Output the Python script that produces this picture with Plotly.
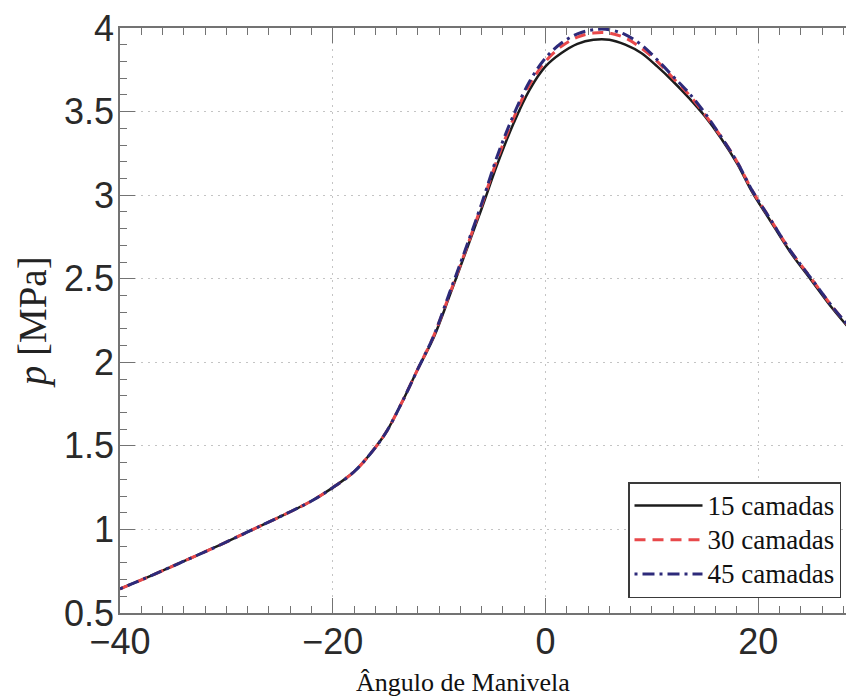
import plotly.graph_objects as go

angle = [-40, -37, -34, -31, -28, -25, -22, -20, -18, -16.5, -15, -13.5, -12, -10.5, -9, -7.5,
         -6, -4.5, -3, -1.5, 0, 1.5, 3, 4.5, 6, 7.5, 9, 10.5, 12, 13.5, 15, 16.5, 18, 19.5,
         21, 23, 25, 27, 29]

p_15 = [0.645, 0.725, 0.81, 0.895, 0.985, 1.075, 1.17, 1.25, 1.345, 1.45, 1.58, 1.76, 1.96, 2.15, 2.40, 2.66,
        2.92, 3.19, 3.43, 3.63, 3.77, 3.85, 3.905, 3.93, 3.93, 3.90, 3.85, 3.77, 3.68, 3.58, 3.47, 3.34, 3.19, 3.01,
        2.86, 2.66, 2.49, 2.32, 2.17]

p_30 = [0.645, 0.725, 0.81, 0.895, 0.985, 1.075, 1.17, 1.25, 1.345, 1.45, 1.58, 1.76, 1.96, 2.16, 2.41, 2.67,
        2.94, 3.22, 3.46, 3.66, 3.80, 3.89, 3.945, 3.97, 3.97, 3.94, 3.88, 3.80, 3.70, 3.60, 3.48, 3.35, 3.20, 3.02,
        2.87, 2.67, 2.50, 2.33, 2.18]

p_45 = [0.645, 0.725, 0.81, 0.895, 0.985, 1.075, 1.17, 1.25, 1.345, 1.45, 1.58, 1.76, 1.96, 2.16, 2.42, 2.68,
        2.95, 3.24, 3.48, 3.68, 3.82, 3.91, 3.965, 3.99, 3.99, 3.96, 3.90, 3.81, 3.71, 3.61, 3.49, 3.35, 3.20, 3.02,
        2.87, 2.67, 2.50, 2.33, 2.18]

series_names = ["15 camadas", "30 camadas", "45 camadas"]
x_ticks = [-40, -20, 0, 20]
y_ticks = [0.5, 1, 1.5, 2, 2.5, 3, 3.5, 4]


def legend_label(name):
    return '<span style="font-size:27px">' + name + '</span>'


fig = go.Figure()
fig.add_trace(go.Scatter(x=angle, y=p_15, mode="lines", name=legend_label(series_names[0]),
                         line=dict(color="#1c1c1c", width=2.5, shape="spline")))
fig.add_trace(go.Scatter(x=angle, y=p_30, mode="lines", name=legend_label(series_names[1]),
                         line=dict(color="#e8484a", width=3, dash="11px,7px", shape="spline")))
fig.add_trace(go.Scatter(x=angle, y=p_45, mode="lines", name=legend_label(series_names[2]),
                         line=dict(color="#2d2a7a", width=3, dash="3px,5px,12px,5px", shape="spline")))

axis_common = dict(
    showline=True, linecolor="#737373", linewidth=1.5,
    ticks="inside", ticklen=15, tickwidth=1.3, tickcolor="#737373",
    showgrid=True, gridcolor="#c4c4c4", griddash="2px,5px", gridwidth=1,
    zeroline=False, ticklabeloverflow="allow",
    tickfont=dict(family="Liberation Sans", size=36, color="#2a2a2a"),
)

fig.update_xaxes(range=[-40, 29.0], tickvals=x_ticks, mirror="ticks",
                 minor=dict(ticks="inside", ticklen=7, dtick=2, tickcolor="#737373", tickwidth=1.2, showgrid=False),
                 ticklabelstandoff=-4,
                 **axis_common)
fig.update_yaxes(range=[0.5, 4], tickvals=y_ticks, mirror=False,
                 minor=dict(ticks="inside", ticklen=7, dtick=0.1, tickcolor="#737373", tickwidth=1.2, showgrid=False),
                 ticklabelstandoff=-3,
                 **axis_common)

# page body has an 8px margin: figure is 846x690 and plot area spans x 112..846, y 20..605
fig.add_annotation(text="<i>p</i> [MPa]", xref="paper", yref="paper",
                   x=-(112 - 25) / 734, y=0.497, showarrow=False, textangle=-90,
                   font=dict(family="Liberation Serif", size=39, color="#222"),
                   xanchor="center", yanchor="middle")
fig.add_annotation(text="Ângulo de Manivela", xref="paper", yref="paper",
                   x=(455 - 112) / 734, y=-(674 - 605) / 585, showarrow=False,
                   font=dict(family="Liberation Serif", size=26, color="#111"),
                   xanchor="center", yanchor="middle")

fig.update_layout(
    width=846, height=690,
    margin=dict(l=112, r=0, t=20, b=85),
    paper_bgcolor="white", plot_bgcolor="white",
    legend=dict(x=(620 - 112) / 734, y=(605 - 590) / 585, xanchor="left", yanchor="bottom",
                bgcolor="white", bordercolor="#3a3a3a", borderwidth=1.5,
                font=dict(family="Liberation Serif", size=24, color="#111"),
                itemwidth=68, tracegroupgap=0),
    showlegend=True,
)

fig.write_html("out.html")
